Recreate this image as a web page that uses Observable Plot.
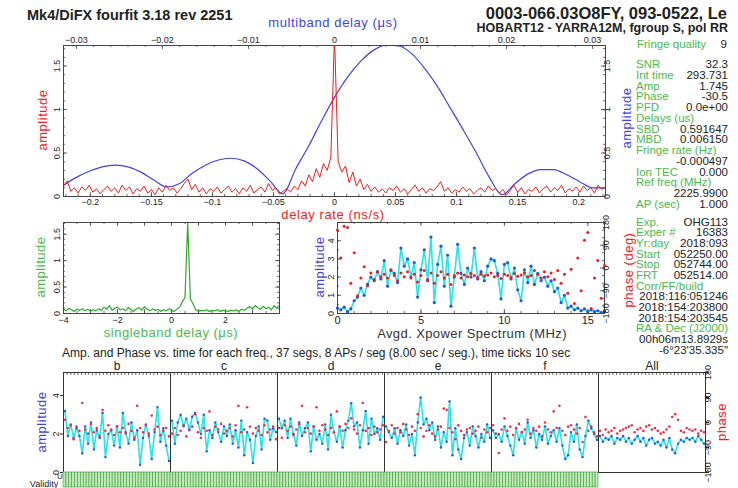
<!DOCTYPE html>
<html><head><meta charset="utf-8">
<script src="https://cdn.jsdelivr.net/npm/d3@7"></script>
<script src="https://cdn.jsdelivr.net/npm/@observablehq/plot@0.6"></script>
<style>
body{margin:0;background:#fff;}
#c{position:relative;width:738px;height:488px;overflow:hidden;font-family:"Liberation Sans",Arial,sans-serif;background:#fff;}
.t{position:absolute;white-space:nowrap;line-height:1;}
svg.p{position:absolute;}
</style></head><body><div id="c"></div>
<script>
// ---------------- DATA ----------------
// Main panel: delay-rate spectrum (red), x grid start/step in ns/s
const rateStart = -0.222, rateStep = 0.003;
const rateAmp = [
0.12,0.18,0.06,0.10,0.04,0.11,0.07,0.13,0.05,0.09,
0.03,0.08,0.12,0.06,0.10,0.04,0.13,0.07,0.11,0.03,
0.09,0.06,0.12,0.04,0.08,0.02,0.10,0.05,0.13,0.07,
0.10,0.04,0.09,0.15,0.20,0.08,0.14,0.05,0.10,0.03,
0.09,0.06,0.11,0.04,0.08,0.12,0.05,0.09,0.03,0.10,
0.06,0.13,0.04,0.08,0.11,0.05,0.15,0.07,0.10,0.03,
0.06,0.09,0.05,0.12,0.08,0.18,0.12,0.25,0.17,0.32,
0.22,0.38,0.30,0.45,1.85,0.40,0.28,0.35,0.16,0.28,
0.12,0.20,0.08,0.14,0.06,0.11,0.05,0.09,0.04,0.10,
0.07,0.12,0.05,0.09,0.03,0.08,0.13,0.06,0.10,0.04,
0.09,0.07,0.11,0.17,0.06,0.10,0.04,0.08,0.05,0.11,
0.06,0.09,0.03,0.07,0.10,0.05,0.12,0.07,0.09,0.04,
0.08,0.02,0.07,0.13,0.05,0.10,0.03,0.08,0.06,0.11,
0.04,0.09,0.12,0.05,0.10,0.07,0.13,0.04,0.09,0.06,
0.11,0.05,0.12,0.07,0.10,0.04,0.13,0.08,0.11];
// Main panel: multiband delay function (blue), us
const mbdX = [-0.0315,-0.03,-0.0285,-0.027,-0.0255,-0.024,-0.0225,-0.021,-0.0195,-0.018,-0.0165,-0.015,-0.0135,-0.012,-0.0105,-0.009,-0.0075,-0.006,-0.0045,-0.003,-0.0015,0,0.0015,0.003,0.0045,0.006,0.0075,0.009,0.0105,0.012,0.0135,0.015,0.0165,0.018,0.0195,0.021,0.0225,0.024,0.0255,0.027,0.0285,0.03,0.0315];
const mbdAmp = [0.13,0.22,0.29,0.34,0.36,0.34,0.28,0.19,0.11,0.15,0.27,0.36,0.42,0.44,0.41,0.32,0.18,0.03,0.32,0.58,0.87,1.14,1.37,1.55,1.68,1.74,1.73,1.64,1.47,1.26,1.01,0.76,0.50,0.22,0.02,0.15,0.26,0.31,0.31,0.25,0.17,0.10,0.10];
// Singleband delay (green), x grid start/step in us
const sbdStart = -4, sbdStep = 0.1;
const sbdAmp = [
0.08,0.05,0.10,0.07,0.04,0.08,0.06,0.09,0.05,0.08,
0.04,0.07,0.05,0.09,0.06,0.12,0.08,0.15,0.06,0.10,
0.12,0.07,0.09,0.05,0.11,0.07,0.04,0.09,0.11,0.06,
0.13,0.08,0.05,0.09,0.06,0.08,0.04,0.07,0.05,0.09,
0.06,0.04,0.08,0.12,0.22,0.30,1.72,0.28,0.18,0.07,
0.04,0.06,0.05,0.07,0.04,0.06,0.05,0.07,0.04,0.06,
0.05,0.04,0.06,0.05,0.07,0.04,0.08,0.06,0.10,0.13,
0.09,0.15,0.11,0.08,0.14,0.09,0.12,0.07,0.15,0.10,
0.16];
// Avgd. Xpower spectrum, x grid start/step in MHz
const xpStart = 0, xpStep = 0.2;
const xpAmp = [
0.3,0.2,0.35,0.1,0.25,0.7,0.9,1.4,1.0,1.6,
2.0,1.8,2.3,1.9,2.9,1.5,2.4,2.2,1.7,3.6,
2.6,3.0,2.0,2.8,0.9,2.4,3.5,1.8,4.2,0.6,
2.7,3.7,1.5,3.2,0.4,2.0,3.8,2.2,1.6,2.5,
2.0,3.6,1.9,2.3,1.8,2.6,3.0,2.9,2.2,0.8,
2.7,2.8,1.9,2.5,1.3,0.7,2.4,1.7,2.6,1.6,
2.2,1.8,2.0,1.5,1.8,1.2,1.4,0.6,1.0,0.3,
0.4,0.2,0.3,0.15,0.25,0.1,0.2,0.1,0.15,0.05,
0.1];
const xpPhase = [
150,40,165,160,-60,60,-110,-40,5,-70,
-20,-45,-15,-35,-25,-40,-10,-30,-50,-20,
-35,-15,-40,-25,-55,-30,-10,-45,-20,-60,
-30,-15,-40,-25,-65,-30,-20,-40,-28,-35,
-22,-30,-38,-25,-32,-28,-20,-35,-30,-42,
-25,-30,-38,-22,-33,-28,-20,-35,-30,-10,
-25,-40,-15,-35,-20,-45,-10,-60,-25,-100,
-5,-140,40,-90,110,140,-160,-40,30,-120,
10];
// Amp & phase vs time per channel (37 segments each)
const channels = ["b","c","d","e","f","All"];
const segAmp = {
 b:[3.2,1.9,2.5,1.8,2.3,1.9,1.0,2.4,1.5,2.6,1.2,2.2,1.8,3.1,0.8,2.0,2.2,1.4,2.4,1.3,3.1,2.1,1.5,2.6,1.7,2.2,0.4,1.8,2.5,1.9,0.7,2.1,3.4,1.6,2.3,1.4,0.6],
 c:[2.7,1.5,2.6,3.0,2.4,2.8,2.2,2.9,3.1,2.6,2.0,3.0,1.1,2.2,1.8,2.6,2.1,1.6,2.4,1.9,2.5,1.5,2.2,1.3,2.7,0.9,2.1,1.7,0.5,1.9,2.4,1.2,2.8,2.7,1.7,2.3,2.1],
 d:[2.8,2.3,2.7,1.8,2.8,2.0,1.4,2.6,1.9,2.3,2.6,1.1,2.4,1.7,2.0,1.5,2.5,1.2,3.0,2.1,1.6,2.4,1.3,2.2,2.7,3.6,2.4,2.6,1.3,2.2,3.2,1.5,2.8,2.0,2.3,1.7,2.9],
 e:[2.4,2.1,1.8,2.3,1.5,2.2,1.9,2.5,1.4,2.0,0.9,2.6,3.9,2.5,2.8,2.2,2.6,1.7,2.4,1.3,2.1,1.6,3.7,0.9,2.3,1.2,0.7,1.8,2.1,1.4,2.4,1.9,1.3,2.0,1.6,2.5,1.8],
 f:[2.2,1.8,2.0,1.6,2.4,1.9,1.4,0.9,2.3,1.7,2.1,1.5,2.6,1.8,2.2,1.3,2.0,1.7,2.4,1.5,1.9,2.2,1.6,2.3,1.4,0.7,0.9,2.1,1.6,2.5,1.2,0.8,1.9,2.7,2.3,2.0,1.7],
 All:[1.9,1.6,1.8,1.7,1.9,1.5,1.8,1.7,1.9,1.6,1.8,1.5,1.7,1.9,1.6,1.8,1.4,1.7,1.8,1.5,1.6,1.4,1.7,1.3,1.8,1.2,1.0,1.5,1.7,1.6,1.8,1.7,1.8,1.6,1.9,1.7,1.5]
};
const segPhase = {
 b:[10,-20,-10,-60,-15,-30,70,-25,-40,-5,-35,-20,-50,45,-30,-10,-25,-45,-15,-35,-20,-40,-5,-30,-55,60,-20,-35,-10,-40,25,-25,-15,-45,-30,-20,-50],
 c:[-40,-20,-45,-30,-10,-50,-25,-15,30,-35,-55,-20,-30,40,-45,-15,-25,-5,-40,-30,-20,-50,-10,60,-35,-25,55,-15,-40,-20,-30,-45,-10,-35,-25,-15,-60],
 d:[-20,-55,-10,-30,-15,-45,-25,-5,60,-35,-20,-40,-15,55,-30,-10,-25,-45,-20,-35,40,-15,-30,-5,-20,15,-25,-40,-10,70,-30,-20,-45,-15,-35,-25,-10],
 e:[-70,-30,-10,-40,-20,-35,-5,-25,-45,-15,-30,30,-20,-50,-30,-10,-40,-50,-25,-15,50,45,-20,-35,-60,-10,-30,-45,-25,-20,-40,-30,-15,-55,-25,-35,-20],
 f:[-10,-40,-110,-25,15,-30,-15,-45,-20,-5,-35,-25,10,-40,-20,-30,-15,-50,0,-25,-35,40,-20,60,-30,-45,-15,-10,-25,-40,-20,-70,20,-30,-15,-35,-50],
 All:[-30,-45,-25,-35,-30,-20,-40,-30,-25,-20,-15,-10,-35,-25,-20,-30,-15,-10,-25,-20,-30,-40,-35,-25,-15,20,30,10,-30,-35,-20,-25,-30,-25,-40,-30,-35]
};
const validChannels = ["b","c","d","e","f"];
// Tick labels
const rateTicks = [-0.2,-0.15,-0.1,-0.05,0,0.05,0.1,0.15,0.2];
const mbdTicks = [-0.03,-0.02,-0.01,0,0.01,0.02,0.03];
const ampTicks = [0,0.5,1,1.5];
const sbdTicks = [-4,-2,0,2];
const xpTicks = [0,5,10,15];
const xpAmpTicks = [0,1,2,3,4];
const phaseTicks = [-180,-90,0,90,180];
const segAmpTicks = [0,2,4];
// Info panel
const fringeQuality = ["Fringe quality","9"];
const info1 = [["SNR","32.3"],["Int time","293.731"],["Amp","1.745"],["Phase","-30.5"],["PFD","0.0e+00"],["Delays (us)",""],["SBD","0.591647"],["MBD","0.006150"],["Fringe rate (Hz)",""],["","-0.000497"],["Ion TEC","0.000"],["Ref freq (MHz)",""],["","2225.9900"],["AP (sec)","1.000"]];
const info2 = [["Exp.","OHG113"],["Exper #","16383"],["Yr:day","2018:093"],["Start","052250.00"],["Stop","052744.00"],["FRT","052514.00"],["Corr/FF/build",""],["","2018:116:051246"],["","2018:154:203800"],["","2018:154:203545"],["RA & Dec (J2000)",""],["","00h06m13.8929s"],["","-6°23'35.335\""]];

// ---------------- helpers ----------------
const C = document.getElementById("c");
const RED="#ee1c1c", BLUE="#4242de", GREEN="#2fa82f", CYAN="#27e3ea", DOT="#1f5bd6", TXTG="#4cb84c", INK="#222";
const fmt = d => (d<0?"\u2212":"") + Math.abs(d);
const baseStyle = {background:"none", fontFamily:"'Liberation Sans', Arial, sans-serif", fontSize:"9px", color:INK, overflow:"visible"};
function place(svg, left, top){ svg.classList.add("p"); svg.style.left=left+"px"; svg.style.top=top+"px"; C.appendChild(svg); }
function T(str, x, y, o={}){
  const d=document.createElement("div"); d.className="t"; d.textContent=str;
  const a=o.anchor||"start"; const tx=a==="start"?"0":a==="middle"?"-50%":"-100%";
  d.style.left=x+"px"; d.style.top=y+"px";
  d.style.transform=`translate(${tx},-50%)`+(o.rotate?` rotate(${o.rotate}deg)`:"");
  d.style.fontSize=(o.size||11)+"px"; d.style.color=o.color||INK;
  if(o.weight) d.style.fontWeight=o.weight;
  if(o.ls) d.style.letterSpacing=o.ls+"px";
  C.appendChild(d); return d;
}
const TK = {stroke:"#444", strokeWidth:0.8};
function xTicksIn(vals, len, side, H){ return Plot.tickX(vals, {x:d=>d, ...TK, [side==="top"?"insetBottom":"insetTop"]: H-len}); }
function yTicksIn(vals, len, side, W){ return Plot.tickY(vals, {y:d=>d, ...TK, [side==="left"?"insetRight":"insetLeft"]: W-len}); }

// ---------------- main panel ----------------
const rateRows = rateAmp.map((a,i)=>({x: rateStart + i*rateStep, a}));
const mbdRows = mbdX.map((x,i)=>({x, a: mbdAmp[i]}));
const MW=542, MH=151;
place(Plot.plot({
  width:738, height:220, marginLeft:63, marginRight:133, marginTop:45, marginBottom:24,
  x:{domain:[-0.222,0.222]}, y:{domain:[0,1.736]}, style:baseStyle,
  marks:[
    Plot.axisX(rateTicks,{anchor:"bottom", tickSize:0, tickPadding:2, label:null, tickFormat:fmt}),
    Plot.axisY(ampTicks,{anchor:"left", tickSize:0, tickPadding:4, tickRotate:-90, label:null, tickFormat:fmt}),
    xTicksIn(d3.range(-0.22,0.2201,0.01), 2, "bottom", MH),
    xTicksIn(rateTicks, 4, "bottom", MH),
    yTicksIn(d3.range(0,1.71,0.1), 2, "left", MW),
    yTicksIn(ampTicks, 4, "left", MW)
  ]}), 0, 0);
place(Plot.plot({
  width:738, height:220, marginLeft:63, marginRight:133, marginTop:45, marginBottom:24,
  x:{domain:[-0.0315,0.0315]}, y:{domain:[0,1.736]}, style:baseStyle,
  marks:[
    Plot.axisX(mbdTicks,{anchor:"top", tickSize:0, tickPadding:3, label:null, tickFormat:fmt}),
    Plot.axisY(ampTicks,{anchor:"right", tickSize:0, tickPadding:4, tickRotate:-90, label:null, tickFormat:fmt}),
    xTicksIn(d3.range(-0.03,0.0301,0.002), 2, "top", MH),
    xTicksIn(mbdTicks, 4, "top", MH),
    yTicksIn(d3.range(0,1.71,0.1), 2, "right", MW),
    yTicksIn(ampTicks, 4, "right", MW),
    Plot.line(mbdRows,{x:"x", y:"a", stroke:BLUE, strokeWidth:1.2, curve:"monotone-x", clip:true}),
    Plot.frame({stroke:"#444"})
  ]}), 0, 0);
// red delay-rate curve drawn above the blue curve
place(Plot.plot({
  width:738, height:220, marginLeft:63, marginRight:133, marginTop:45, marginBottom:24,
  x:{domain:[-0.222,0.222], axis:null}, y:{domain:[0,1.736], axis:null}, style:baseStyle,
  marks:[Plot.line(rateRows,{x:"x", y:"a", stroke:RED, strokeWidth:1, clip:true})]}), 0, 0);

// ---------------- singleband delay ----------------
const sbdRows = sbdAmp.map((a,i)=>({x: sbdStart + i*sbdStep, a}));
const SW=216, SH=91;
place(Plot.plot({
  width:300, height:130, marginLeft:63, marginRight:21, marginTop:12, marginBottom:27,
  x:{domain:[-4,4]}, y:{domain:[0,1.72]}, style:baseStyle,
  marks:[
    Plot.axisX(sbdTicks,{anchor:"bottom", tickSize:0, tickPadding:3, label:null, tickFormat:fmt}),
    Plot.axisY(ampTicks,{anchor:"left", tickSize:0, tickPadding:4, tickRotate:-90, label:null, tickFormat:fmt}),
    xTicksIn(d3.range(-4,4.01,0.5), 2, "bottom", SH), xTicksIn(d3.range(-4,4.01,1), 4, "bottom", SH),
    xTicksIn(d3.range(-4,4.01,0.5), 2, "top", SH), xTicksIn(d3.range(-4,4.01,1), 4, "top", SH),
    yTicksIn(d3.range(0,1.71,0.1), 2, "left", SW), yTicksIn(ampTicks, 4, "left", SW),
    yTicksIn(d3.range(0,1.71,0.1), 2, "right", SW), yTicksIn(ampTicks, 4, "right", SW),
    Plot.line(sbdRows,{x:"x", y:"a", stroke:GREEN, strokeWidth:1.2, clip:true}),
    Plot.frame({stroke:"#444"})
  ]}), 0, 210);

// ---------------- Xpower spectrum ----------------
const xpRows = xpAmp.map((a,i)=>({f: xpStart + i*xpStep, a, p: xpPhase[i]}));
const XW=267, XH=91;
place(Plot.plot({
  width:338, height:130, marginLeft:37, marginRight:34, marginTop:12, marginBottom:27,
  x:{domain:[0,16]}, y:{domain:[0,5]}, style:baseStyle,
  marks:[
    Plot.axisX(xpTicks,{anchor:"bottom", tickSize:0, tickPadding:3, label:null, fontSize:11}),
    Plot.axisY(xpAmpTicks,{anchor:"left", tickSize:0, tickPadding:4, tickRotate:-90, label:null}),
    xTicksIn(d3.range(0,16.01,1), 2, "bottom", XH), xTicksIn(xpTicks, 4, "bottom", XH),
    xTicksIn(d3.range(0,16.01,1), 2, "top", XH), xTicksIn(xpTicks, 4, "top", XH),
    yTicksIn(d3.range(0,5.01,0.5), 2, "left", XW), yTicksIn(xpAmpTicks, 4, "left", XW),
    Plot.line(xpRows,{x:"f", y:"a", stroke:CYAN, strokeWidth:1.6}),
    Plot.dot(xpRows,{x:"f", y:"a", fill:DOT, r:1.6}),
    Plot.frame({stroke:"#444"})
  ]}), 300, 210);
place(Plot.plot({
  width:338, height:130, marginLeft:37, marginRight:34, marginTop:12, marginBottom:27,
  x:{domain:[0,16], axis:null}, y:{domain:[-180,180]}, style:baseStyle,
  marks:[
    Plot.axisY(phaseTicks,{anchor:"right", tickSize:0, tickPadding:4, tickRotate:-90, label:null, tickFormat:fmt}),
    yTicksIn(d3.range(-180,181,30), 2, "right", XW), yTicksIn(phaseTicks, 4, "right", XW),
    Plot.dot(xpRows,{x:"f", y:"p", fill:RED, r:1.5})
  ]}), 300, 210);

// ---------------- amp & phase vs time ----------------
const segRows = channels.flatMap(ch => segAmp[ch].map((a,i)=>({ch, seg:i, a, p: segPhase[ch][i]})));
const validRows = validChannels.flatMap(ch => segAmp[ch].map((a,i)=>({ch, seg:i})));
const timeTicks = d3.range(0, 296, 10);
const BH = 100;
place(Plot.plot({
  width:738, height:133, marginLeft:63, marginRight:33, marginTop:32, marginBottom:1,
  fx:{domain:channels, padding:0}, x:{domain:[-0.5,36.5], axis:null}, y:{domain:[0,5.2]}, style:baseStyle,
  marks:[
    Plot.axisFx({anchor:"top", tickSize:0, tickPadding:3, label:null, fontSize:12}),
    Plot.axisY(segAmpTicks,{anchor:"left", tickSize:3, tickPadding:2, tickRotate:-90, label:null}),
    Plot.tickX(timeTicks,{x:d=>d/8-0.5, ...TK, insetBottom:BH-3}),
    Plot.line(segRows,{fx:"ch", x:"seg", y:"a", stroke:CYAN, strokeWidth:1.6}),
    Plot.dot(segRows,{fx:"ch", x:"seg", y:"a", fill:DOT, r:1.2}),
    Plot.frame({stroke:"#333"})
  ]}), 0, 340);
place(Plot.plot({
  width:738, height:133, marginLeft:63, marginRight:33, marginTop:32, marginBottom:1,
  fx:{domain:channels, padding:0, axis:null}, x:{domain:[-0.5,36.5], axis:null}, y:{domain:[-180,180]}, style:baseStyle,
  marks:[
    Plot.axisY(phaseTicks,{anchor:"right", tickSize:3, tickPadding:2, tickRotate:-90, label:null, tickFormat:fmt}),
    Plot.dot(segRows,{fx:"ch", x:"seg", y:"p", fill:"#f0304a", r:1.3})
  ]}), 0, 340);
place(Plot.plot({
  width:738, height:16, marginLeft:63, marginRight:33, marginTop:0, marginBottom:1,
  fx:{domain:channels, padding:0, axis:null}, x:{type:"band", domain:d3.range(37), padding:0, axis:null}, y:{domain:[0,1], axis:null}, style:baseStyle,
  marks:[
    Plot.barY(validRows,{fx:"ch", x:"seg", y1:0, y2:1, fill:"#bfe9b6", stroke:"#3f9e3f", strokeWidth:0.6})
  ]}), 0, 472);

// ---------------- texts ----------------
T("Mk4/DiFX fourfit 3.18 rev 2251", 27, 15, {size:14.5, weight:"bold"});
T("0003-066.03O8FY, 093-0522, Le", 727, 13, {size:16.5, weight:"bold", anchor:"end"});
T("HOBART12 - YARRA12M, fgroup S, pol RR", 728, 27.5, {size:12.5, weight:"bold", anchor:"end"});
T("multiband delay (\u03bcs)", 333, 22, {size:13, color:BLUE, anchor:"middle", ls:0.6});
T("delay rate (ns/s)", 333, 214, {size:13, color:RED, anchor:"middle", ls:0.6});
T("amplitude", 42, 120, {size:13, color:RED, anchor:"middle", rotate:-90, ls:0.5});
T("amplitude", 626, 118, {size:13, color:BLUE, anchor:"middle", rotate:-90, ls:0.5});
T("amplitude", 40, 267, {size:13, color:TXTG, anchor:"middle", rotate:-90, ls:0.5});
T("singleband delay (\u03bcs)", 171, 332, {size:13, color:TXTG, anchor:"middle", ls:0.5});
T("amplitude", 319, 267, {size:13, color:BLUE, anchor:"middle", rotate:-90, ls:0.5});
T("phase (deg)", 628, 270, {size:13, color:RED, anchor:"middle", rotate:-90, ls:0.5});
T("Avgd. Xpower Spectrum (MHz)", 472, 333, {size:13, color:"#333", anchor:"middle", ls:0.4});
T("Amp. and Phase vs. time for each freq., 37 segs, 8 APs / seg (8.00 sec / seg.), time ticks 10 sec", 62, 353, {size:12, color:INK});
T("amplitude", 41, 422, {size:13, color:BLUE, anchor:"middle", rotate:-90, ls:0.5});
T("phase", 721, 422, {size:13, color:RED, anchor:"middle", rotate:-90, ls:0.5});
T("Validity", 44, 484, {size:9, color:INK, anchor:"middle"});
T("U", 60, 477, {size:8, color:INK, anchor:"middle"});
// info panel
T(fringeQuality[0], 637, 45, {size:11.5, color:TXTG});
T(fringeQuality[1], 727, 45, {size:11.5, color:INK, anchor:"end"});
info1.forEach((r,i)=>{ const y=65+i*10.77; if(r[0]) T(r[0],636,y,{size:11.5,color:TXTG}); if(r[1]) T(r[1],728,y,{size:11.5,color:INK,anchor:"end"}); });
info2.forEach((r,i)=>{ const y=222.7+i*10.67; if(r[0]) T(r[0],636,y,{size:11.5,color:TXTG}); if(r[1]) T(r[1],728,y,{size:11.5,color:INK,anchor:"end"}); });
</script></body></html>
